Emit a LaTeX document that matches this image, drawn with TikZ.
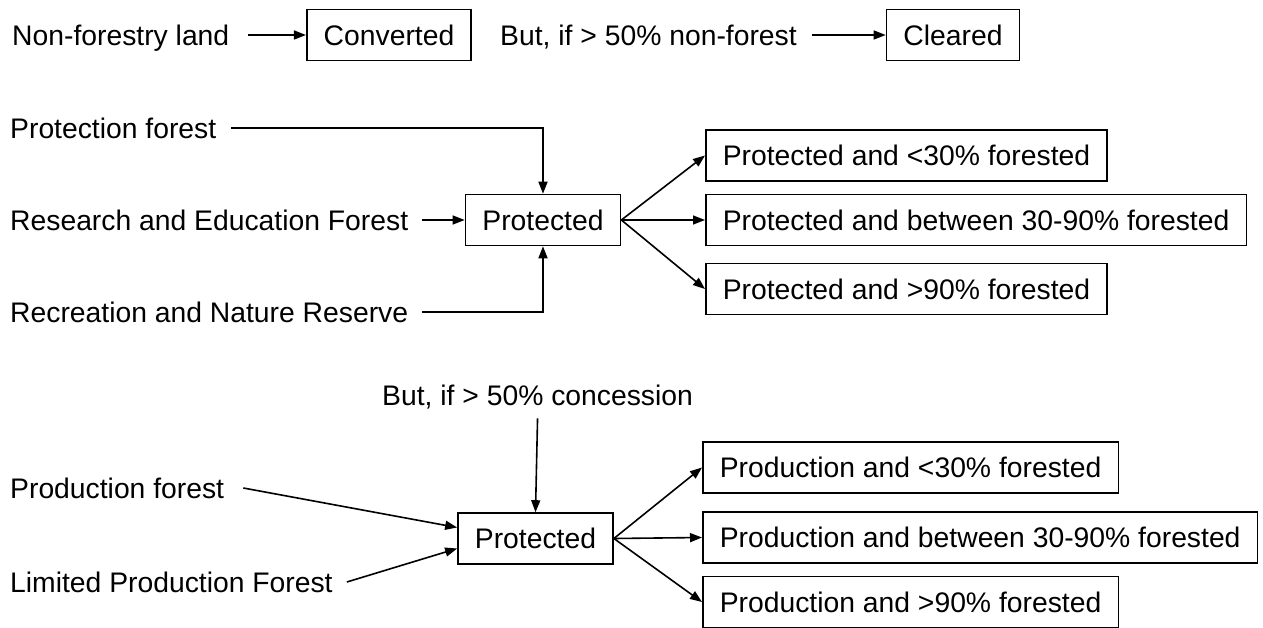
\documentclass[tikz,border=0pt]{standalone}
\usepackage{fontspec}
\setmainfont{Liberation Sans}
\usetikzlibrary{arrows.meta}
\begin{document}
\begin{tikzpicture}[x=1pt,y=-1pt,
  every node/.style={font=\fontsize{28.3}{34}\selectfont, text height=20.3pt, text depth=0pt},
  lbl/.style={anchor=west, inner sep=0pt},
  box/.style={draw, line width=1.6pt, inner xsep=17pt, inner ysep=0pt, minimum height=51pt},
  arr/.style={line width=1.6pt, -{Triangle[length=12pt,width=9pt]}}]
\useasboundingbox (0,0) rectangle (1263,628);
% top row
\node[lbl] (nfl) at (12,35) {Non-forestry land};
\node[box] (conv) at (389,35) {Converted};
\node[lbl] (bnf) at (500,35) {But, if > 50\% non-forest};
\node[box] (clr) at (953,35) {Cleared};
\draw[arr] ([xshift=19pt]nfl.east) -- (conv.west);
\draw[arr] ([xshift=15pt]bnf.east) -- (clr.west);
% middle section
\node[lbl] (pf) at (10,128) {Protection forest};
\node[lbl] (ref) at (10,220) {Research and Education Forest};
\node[lbl] (rnr) at (10,312) {Recreation and Nature Reserve};
\node[box] (p1) at (543,220) {Protected};
\node[box, anchor=west] (o1) at (705,155.5) {Protected and <30\% forested};
\node[box, anchor=west] (o2) at (705,220) {Protected and between 30-90\% forested};
\node[box, anchor=west] (o3) at (705,289) {Protected and >90\% forested};
\draw[arr] ([xshift=15pt]pf.east) -| (p1.north);
\draw[arr] ([xshift=14pt]ref.east) -- (p1.west);
\draw[arr] ([xshift=14pt]rnr.east) -| (p1.south);
\draw[arr] (p1.east) -- (o1.west);
\draw[arr] (p1.east) -- (o2.west);
\draw[arr] (p1.east) -- (o3.west);
% bottom section
\node[lbl] (bc) at (382,395) {But, if > 50\% concession};
\node[box] (p2) at (535.5,538.5) {Protected};
\node[lbl] (prf) at (10,488) {Production forest};
\node[lbl] (lpf) at (10,582) {Limited Production Forest};
\node[box, anchor=west] (q1) at (702,467.5) {Production and <30\% forested};
\node[box, anchor=west] (q2) at (702,537.5) {Production and between 30-90\% forested};
\node[box, anchor=west] (q3) at (702,602) {Production and >90\% forested};
\draw[arr] ([yshift=-13pt]bc.south) -- (p2.north);
\draw[arr] ([xshift=19pt]prf.east) -- ([yshift=11pt]p2.west);
\draw[arr] ([xshift=14pt]lpf.east) -- ([yshift=-10pt]p2.west);
\draw[arr] (p2.east) -- (q1.west);
\draw[arr] (p2.east) -- (q2.west);
\draw[arr] (p2.east) -- (q3.west);
\end{tikzpicture}
\end{document}
